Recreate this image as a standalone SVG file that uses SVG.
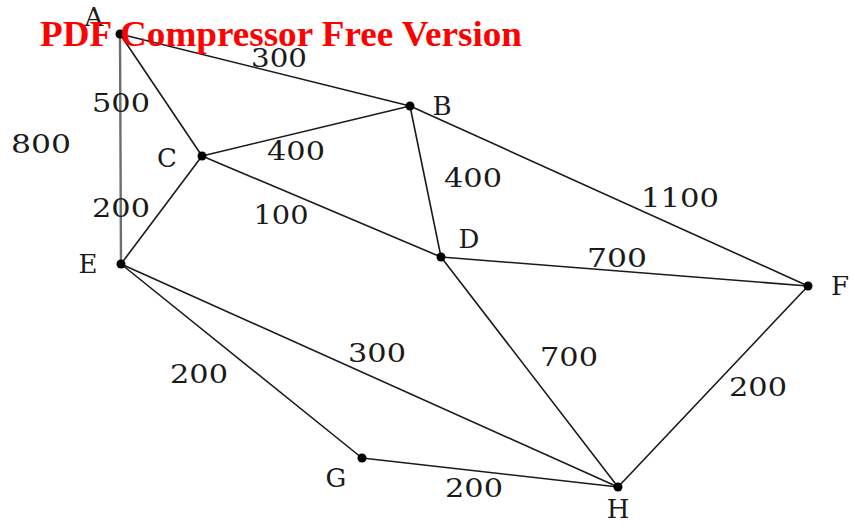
<svg xmlns="http://www.w3.org/2000/svg" width="854" height="527" viewBox="0 0 854 527">
<style>
.e{stroke:#1a1a1a;stroke-width:1.6;fill:none;stroke-linecap:round}
.g{stroke:#6e6e6e;stroke-width:2.4}
.d{fill:#000}
.t{font-family:"DejaVu Serif","Liberation Serif",serif;font-size:26px;fill:#1a1a1a;text-anchor:middle}
.w{font-family:"Liberation Serif","Times New Roman",serif;font-weight:bold;font-size:36.5px;fill:#ff0000}
</style>
<rect width="854" height="527" fill="#fff"/>
<g id="connectors">
<line class="e g" x1="120" y1="34" x2="121" y2="264"/>
<line class="e" x1="120" y1="34" x2="410" y2="106"/>
<line class="e" x1="120" y1="34" x2="202" y2="156"/>
<line class="e" x1="202" y1="156" x2="410" y2="106"/>
<line class="e" x1="202" y1="156" x2="121" y2="264"/>
<line class="e" x1="202" y1="156" x2="441" y2="257"/>
<line class="e" x1="410" y1="106" x2="441" y2="257"/>
<line class="e" x1="410" y1="106" x2="808" y2="286"/>
<line class="e" x1="441" y1="257" x2="808" y2="286"/>
<line class="e" x1="441" y1="257" x2="618" y2="487"/>
<line class="e" x1="121" y1="264" x2="618" y2="487"/>
<line class="e" x1="121" y1="264" x2="362" y2="458"/>
<line class="e" x1="362" y1="458" x2="618" y2="487"/>
<line class="e" x1="808" y1="286" x2="618" y2="487"/>
<text class="t" x="279" y="67" textLength="56" lengthAdjust="spacingAndGlyphs">300</text>
<text class="t" x="121" y="112" textLength="58" lengthAdjust="spacingAndGlyphs">500</text>
<text class="t" x="41" y="153" textLength="60" lengthAdjust="spacingAndGlyphs">800</text>
<text class="t" x="296" y="160" textLength="58" lengthAdjust="spacingAndGlyphs">400</text>
<text class="t" x="121" y="217" textLength="58" lengthAdjust="spacingAndGlyphs">200</text>
<text class="t" x="281" y="224" textLength="55" lengthAdjust="spacingAndGlyphs">100</text>
<text class="t" x="473" y="187" textLength="58" lengthAdjust="spacingAndGlyphs">400</text>
<text class="t" x="680" y="207" textLength="78" lengthAdjust="spacingAndGlyphs">1100</text>
<text class="t" x="617" y="267" textLength="60" lengthAdjust="spacingAndGlyphs">700</text>
<text class="t" x="377" y="362" textLength="58" lengthAdjust="spacingAndGlyphs">300</text>
<text class="t" x="199" y="383" textLength="58" lengthAdjust="spacingAndGlyphs">200</text>
<text class="t" x="569" y="366" textLength="58" lengthAdjust="spacingAndGlyphs">700</text>
<text class="t" x="758" y="396" textLength="58" lengthAdjust="spacingAndGlyphs">200</text>
<text class="t" x="474" y="497" textLength="58" lengthAdjust="spacingAndGlyphs">200</text>
</g>
<g id="A"><circle class="d" cx="120" cy="34" r="4.5"/><text class="t" x="94" y="26">A</text></g>
<g id="B"><circle class="d" cx="410" cy="106" r="4.5"/><text class="t" x="442" y="115">B</text></g>
<g id="C"><circle class="d" cx="202" cy="156" r="4.5"/><text class="t" x="167" y="167">C</text></g>
<g id="D"><circle class="d" cx="441" cy="257" r="4.5"/><text class="t" x="469" y="248">D</text></g>
<g id="E"><circle class="d" cx="121" cy="264" r="4.5"/><text class="t" x="88" y="273">E</text></g>
<g id="F"><circle class="d" cx="808" cy="286" r="4.5"/><text class="t" x="840" y="295">F</text></g>
<g id="G"><circle class="d" cx="362" cy="458" r="4.5"/><text class="t" x="336" y="487">G</text></g>
<g id="H"><circle class="d" cx="618" cy="487" r="4.5"/><text class="t" x="618" y="518">H</text></g>
<text class="w" x="40" y="46" textLength="482" lengthAdjust="spacingAndGlyphs">PDF Compressor Free Version</text>
</svg>
